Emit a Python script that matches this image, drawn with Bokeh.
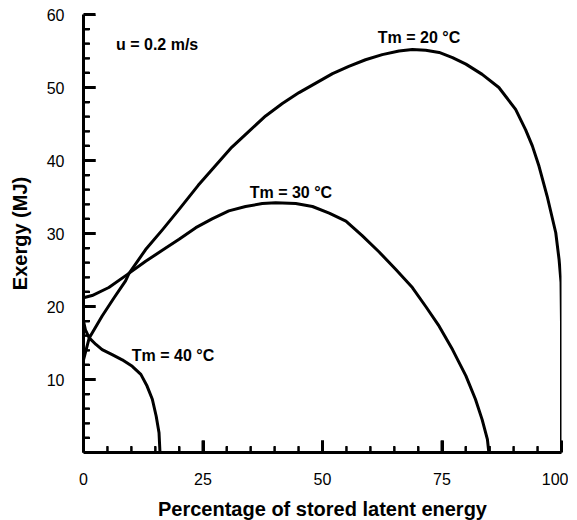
import math
from bokeh.plotting import figure
from bokeh.models import FixedTicker, Label, Range1d, Span
from bokeh.embed import file_html
from bokeh.resources import INLINE

# Data
tm20_x = [0, 1.2, 3.9, 6.4, 8.8, 9.5, 13.0, 16.5, 20.0, 24.0, 27.5, 31.0, 34.6, 38.1, 41.6, 45.1, 48.6,
          52.1, 55.5, 59.0, 62.5, 66.0, 68.8, 71.6, 74.4, 77.2, 80.0, 83.4, 86.9, 90.4, 92.5, 93.9,
          95.3, 97.0, 98.8, 99.5, 99.9, 100, 100]
tm20_y = [12.7, 15.7, 18.7, 21.2, 23.5, 24.5, 27.8, 30.5, 33.3, 36.6, 39.2, 41.8, 44.0, 46.1, 47.8, 49.3, 50.6,
          51.9, 52.9, 53.8, 54.5, 55.0, 55.2, 55.1, 54.8, 54.1, 53.2, 51.8, 50.0, 47.0, 44.2, 42.0,
          39.2, 35.1, 30.1, 26.4, 23.3, 17.8, 0]

tm30_x = [0, 1.8, 5.3, 9.2, 13.0, 17.2, 20.0, 23.5, 26.9, 30.4, 33.9, 37.4, 40.2, 44.4, 47.9, 51.4,
          54.9, 58.3, 61.8, 65.3, 68.8, 71.6, 74.4, 77.2, 80.0, 82.0, 83.4, 84.5, 84.8]
tm30_y = [21.2, 21.5, 22.6, 24.4, 26.2, 28.0, 29.2, 30.8, 32.0, 33.1, 33.7, 34.1, 34.2, 34.1, 33.7, 32.8,
          31.7, 29.7, 27.5, 25.1, 22.6, 20.0, 17.3, 14.1, 10.5, 7.3, 4.5, 1.8, 0]

tm40_x = [0, 0.4, 1.2, 2.6, 3.9, 6.0, 8.1, 10.2, 12.0, 13.3, 14.4, 15.2, 15.8, 16.0]
tm40_y = [18.0, 16.8, 15.7, 14.8, 14.1, 13.4, 12.7, 11.8, 10.7, 9.1, 7.3, 5.0, 2.7, 0]

x_ticks = [0, 25, 50, 75, 100]
x_minor = [5, 10, 15, 20, 30, 35, 40, 45, 55, 60, 65, 70, 80, 85, 90, 95]
y_ticks = [10, 20, 30, 40, 50, 60]
y_minor = [2, 4, 6, 8, 12, 14, 16, 18, 22, 24, 26, 28, 32, 34, 36, 38, 42, 44, 46, 48, 52, 54, 56, 58]
x_lo, x_hi = 0, 100
y_lo, y_hi = 0, 60

FONT = "Liberation Sans"

p = figure(width=568, height=512, output_backend="svg", toolbar_location=None,
           x_range=Range1d(x_lo, x_hi), y_range=Range1d(y_lo, y_hi),
           min_border_left=83, min_border_right=7, min_border_top=14, min_border_bottom=60)
p.frame_width = 478
p.frame_height = 438
p.outline_line_color = None
p.xgrid.visible = False
p.ygrid.visible = False
p.background_fill_color = "white"
p.border_fill_color = "white"

for ax, ticks, minor in ((p.xaxis[0], x_ticks, x_minor), (p.yaxis[0], y_ticks, y_minor)):
    ax.ticker = FixedTicker(ticks=ticks, minor_ticks=minor)
    ax.axis_line_width = 3
    ax.axis_line_color = "black"
    ax.major_tick_in = 12
    ax.major_tick_out = 0
    ax.minor_tick_in = 6
    ax.minor_tick_out = 0
    ax.major_tick_line_width = 3
    ax.minor_tick_line_width = 2
    ax.major_label_text_font = FONT
    ax.major_label_text_font_size = "16px"
    ax.major_label_text_color = "black"
    ax.axis_label_text_font = FONT
    ax.axis_label_text_font_size = "20px"
    ax.axis_label_text_font_style = "bold"
    ax.axis_label_text_color = "black"

p.xaxis.axis_label = "Percentage of stored latent energy"
p.yaxis.axis_label = "Exergy (MJ)"
p.xaxis.major_label_standoff = 20
p.yaxis.major_label_standoff = 19
p.xaxis.axis_label_standoff = 10
p.yaxis.axis_label_standoff = 13

# inner half of the axis lines (the axis panel clips its own drawing)
p.add_layout(Span(location=x_lo, dimension="height", line_color="black", line_width=3))
p.add_layout(Span(location=y_lo, dimension="width", line_color="black", line_width=3))

# inward tick marks: dash markers centred on the axis, clipped by the frame
p.scatter(x_ticks, [y_lo] * len(x_ticks), marker="dash", size=24, angle=math.pi / 2,
          line_color="black", line_width=3)
p.scatter(x_minor, [y_lo] * len(x_minor), marker="dash", size=13, angle=math.pi / 2,
          line_color="black", line_width=2)
p.scatter([x_lo] * len(y_ticks), y_ticks, marker="dash", size=24,
          line_color="black", line_width=3)
p.scatter([x_lo] * len(y_minor), y_minor, marker="dash", size=13,
          line_color="black", line_width=2)

for xs, ys in ((tm20_x, tm20_y), (tm30_x, tm30_y), (tm40_x, tm40_y)):
    p.line(xs, ys, line_color="black", line_width=3, line_join="round")

labels = [
    ("Tm = 20 \u00b0C", 70.2, 56.8, "center"),
    ("Tm = 30 \u00b0C", 43.4, 35.6, "center"),
    ("Tm = 40 \u00b0C", 10.1, 13.3, "left"),
    ("u = 0.2 m/s", 6.8, 55.9, "left"),
]
for t, x, y, al in labels:
    p.add_layout(Label(x=x, y=y, text=t, text_align=al, text_baseline="middle",
                       text_font=FONT, text_font_size="16px", text_font_style="bold",
                       text_color="black"))

open("out.html", "w").write(file_html(p, INLINE))
